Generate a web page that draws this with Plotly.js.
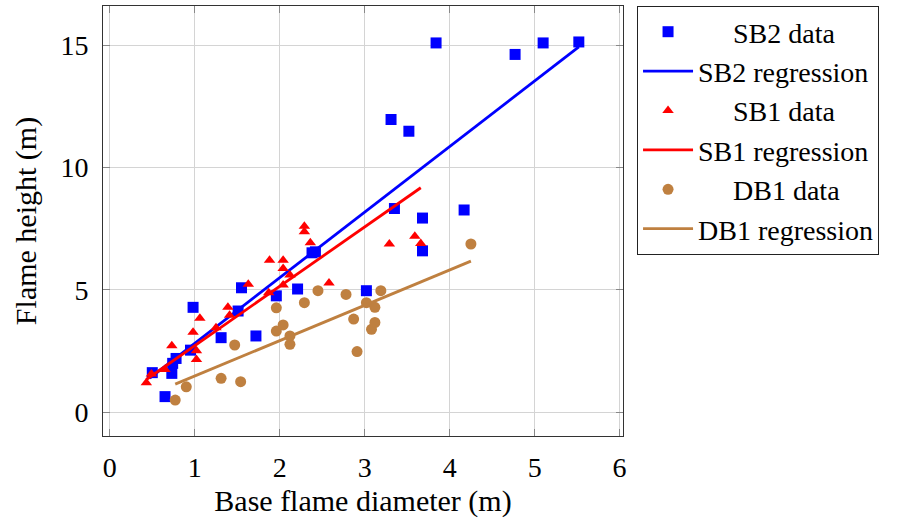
<!DOCTYPE html>
<html>
<head>
<meta charset="utf-8">
<script src="https://cdn.plot.ly/plotly-3.0.1.min.js"></script>
<style>
html,body{margin:0;padding:0;background:#fff;}
#chart{width:901px;height:518px;}
#chart svg text{font-family:'Liberation Serif','Times New Roman',serif !important;}
</style>
</head>
<body>
<div id="chart"></div>
<script>
// SB2 data (base flame diameter m, flame height m)
const sb2X = [0.50, 0.65, 0.73, 0.74, 0.78, 0.95, 0.98, 1.31, 1.51, 1.55, 1.72, 1.96, 2.21, 2.38, 2.42, 3.02, 3.31, 3.35, 3.52, 3.68, 3.68, 3.84, 4.17, 4.77, 5.10, 5.52];
const sb2Y = [1.61, 0.63, 1.58, 1.99, 2.19, 2.53, 4.28, 3.04, 4.13, 5.08, 3.11, 4.75, 5.03, 6.51, 6.55, 4.96, 11.96, 8.32, 11.48, 7.93, 6.59, 15.09, 8.26, 14.62, 15.09, 15.13];
const sb2RegX = [0.47, 5.52];
const sb2RegY = [1.39, 14.93];

// SB1 data
const sb1X = [0.43, 0.49, 0.65, 0.73, 0.98, 1.02, 1.02, 1.06, 1.25, 1.39, 1.41, 1.63, 1.87, 1.88, 2.04, 2.04, 2.04, 2.12, 2.29, 2.29, 2.36, 2.58, 3.29, 3.59, 3.66];
const sb1Y = [1.20, 1.55, 1.74, 2.71, 3.26, 2.51, 2.15, 3.83, 3.45, 4.28, 3.96, 5.22, 4.88, 6.21, 6.21, 5.87, 5.19, 5.60, 7.60, 7.37, 6.92, 5.28, 6.87, 7.19, 6.89];
const sb1RegX = [0.43, 3.66];
const sb1RegY = [1.33, 9.17];

// DB1 data
const db1X = [0.77, 0.90, 1.31, 1.47, 1.54, 1.96, 1.96, 2.04, 2.12, 2.12, 2.29, 2.45, 2.78, 2.87, 2.91, 3.02, 3.08, 3.12, 3.12, 3.19, 4.25];
const db1Y = [0.49, 1.03, 1.38, 2.74, 1.24, 4.26, 3.31, 3.56, 3.11, 2.77, 4.47, 4.96, 4.81, 3.80, 2.47, 4.47, 3.38, 4.28, 3.66, 4.96, 6.87];
const db1RegX = [0.77, 4.25];
const db1RegY = [1.14, 6.17];

const names = ["SB2 data", "SB2 regression", "SB1 data", "SB1 regression", "DB1 data", "DB1 regression"];
const xTicks = [0, 1, 2, 3, 4, 5, 6];
const yTicks = [0, 5, 10, 15];

const blue = "rgb(0,0,255)", red = "rgb(255,0,0)", brown = "rgb(191,128,64)";
const pad = "     ";
const FONT = "Times New Roman";

const traces = [
  {x: sb2X, y: sb2Y, mode: "markers", name: pad + names[0], legendgroup: "a",
   marker: {symbol: "square", size: 11, color: blue, line: {width: 0}}},
  {x: sb2RegX, y: sb2RegY, mode: "lines", name: names[1], legendgroup: "b",
   line: {color: blue, width: 2.8}},
  {x: sb1X, y: sb1Y, mode: "markers", name: pad + names[2], legendgroup: "c",
   marker: {symbol: "triangle-up", size: 10, color: red, line: {width: 0}}},
  {x: sb1RegX, y: sb1RegY, mode: "lines", name: names[3], legendgroup: "d",
   line: {color: red, width: 2.8}},
  {x: db1X, y: db1Y, mode: "markers", name: pad + names[4], legendgroup: "e",
   marker: {symbol: "circle", size: 11, color: brown, line: {width: 0}}},
  {x: db1RegX, y: db1RegY, mode: "lines", name: names[5], legendgroup: "f",
   line: {color: brown, width: 2.8}}
];

const axisCommon = {
  showline: true, linecolor: "#333", linewidth: 1, mirror: "ticks",
  ticks: "inside", ticklen: 7, tickcolor: "#888", tickwidth: 1,
  showgrid: true, gridcolor: "#d4d4d4", gridwidth: 1, zeroline: false,
  tickfont: {family: FONT, size: 28, color: "#000"}
};

const layout = {
  width: 901, height: 518,
  font: {family: FONT, color: "#000"},
  margin: {l: 103, r: 278, t: 6, b: 82},
  paper_bgcolor: "#fff", plot_bgcolor: "#fff",
  showlegend: true,
  xaxis: Object.assign({}, axisCommon, {
    range: [-0.08, 6.04], tickmode: "array", tickvals: xTicks, ticktext: xTicks.map(String),
    ticklabelstandoff: 6,
    title: {text: "Base flame diameter (m)", font: {family: FONT, size: 30, color: "#000"}, standoff: 10}
  }),
  yaxis: Object.assign({}, axisCommon, {
    range: [-0.98, 16.6], tickmode: "array", tickvals: yTicks, ticktext: yTicks.map(String),
    ticklabelstandoff: 8,
    title: {text: "Flame height (m)", font: {family: FONT, size: 30, color: "#000"}, standoff: 14}
  }),
  legend: {
    x: 1.027, y: 1, xanchor: "left", yanchor: "top",
    bgcolor: "#fff", bordercolor: "#222", borderwidth: 1,
    font: {family: FONT, size: 28, color: "#000"},
    itemwidth: 50,
    traceorder: "grouped", tracegroupgap: 0
  }
};

Plotly.newPlot("chart", traces, layout, {staticPlot: true});
</script>
</body>
</html>
